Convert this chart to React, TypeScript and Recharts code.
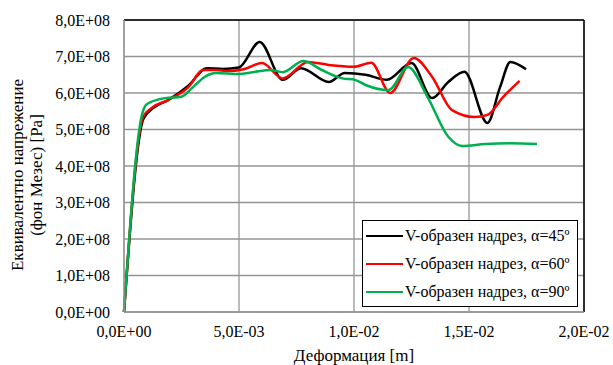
import React from "react";
import {
  LineChart,
  Line,
  XAxis,
  YAxis,
  CartesianGrid,
  Legend,
  ReferenceLine,
} from "recharts";

// deformation in units of 1E-3 m, stress in units of 1E+8 Pa
const x45 = [0, 0.85, 1.3, 1.9, 2.8, 3.6, 4.3, 5.0, 5.9, 6.9, 7.7, 8.9, 9.6, 10.5, 11.43, 12.5, 13.4, 14.1, 14.8, 15.8, 16.35, 16.8, 17.48];
const y45 = [0, 5.3, 5.6, 5.8, 6.2, 6.68, 6.66, 6.7, 7.4, 6.36, 6.68, 6.3, 6.55, 6.5, 6.36, 6.82, 5.86, 6.3, 6.58, 5.18, 6.16, 6.85, 6.65];

const x60 = [0, 0.83, 1.22, 1.9, 2.8, 3.43, 4.0, 4.5, 5.2, 6.0, 6.9, 8.0, 8.9, 10.0, 10.75, 11.57, 12.6, 13.4, 14.26, 15.26, 15.8, 16.5, 17.2];
const y60 = [0, 5.34, 5.6, 5.8, 6.16, 6.63, 6.63, 6.6, 6.65, 6.82, 6.4, 6.85, 6.77, 6.72, 6.83, 6.0, 6.96, 6.44, 5.53, 5.34, 5.4, 5.9, 6.33];

const x90 = [0, 0.78, 1.0, 1.8, 2.5, 3.0, 3.5, 4.0, 5.0, 5.6, 6.4, 6.9, 7.8, 8.6, 9.5, 10.04, 10.5, 11.5, 12.35, 13.2, 14.1, 14.7, 15.7, 16.8, 17.96];
const y90 = [0, 5.4, 5.7, 5.86, 5.9, 6.16, 6.44, 6.55, 6.52, 6.57, 6.63, 6.57, 6.88, 6.63, 6.4, 6.36, 6.22, 6.08, 6.71, 5.89, 4.8, 4.55, 4.6, 4.62, 4.6];

const seriesNames = [
  "V-образен надрез, α=45º",
  "V-образен надрез, α=60º",
  "V-образен надрез, α=90º",
];
const seriesColors = ["#000000", "#ff0000", "#00b050"];

const xTicks = [0, 0.005, 0.01, 0.015, 0.02];
const yTicks = [0, 1e8, 2e8, 3e8, 4e8, 5e8, 6e8, 7e8, 8e8];

const toPoints = (xs: number[], ys: number[]) =>
  xs.map((x, i) => ({ x: x * 1e-3, y: ys[i] * 1e8 }));

const series = [toPoints(x45, y45), toPoints(x60, y60), toPoints(x90, y90)];

const FONT =
  '"Liberation Serif", Tinos, "Times New Roman", Times, "Noto Serif", "DejaVu Serif", FreeSerif, serif';

const sci = (v: number) => {
  if (v === 0) return "0,0E+00";
  let e = Math.floor(Math.log10(Math.abs(v)) + 1e-9);
  let m = v / Math.pow(10, e);
  const exp = String(Math.abs(e)).padStart(2, "0");
  return `${m.toFixed(1).replace(".", ",")}E${e < 0 ? "-" : "+"}${exp}`;
};

const YTitle = (props: any) => {
  const { viewBox } = props;
  const cy = viewBox.y + viewBox.height / 2 + 9;
  return (
    <g style={{ fontFamily: FONT }} fontSize={17} fill="#000">
      <text x={23} y={cy} transform={`rotate(-90 23 ${cy})`} textAnchor="middle">
        Еквивалентно напрежение
      </text>
      <text x={42} y={cy} transform={`rotate(-90 42 ${cy})`} textAnchor="middle">
        (фон Мезес) [Pa]
      </text>
    </g>
  );
};

const LegendBox = () => (
  <div
    style={{
      border: "1.5px solid #000",
      background: "#fff",
      width: 216,
      fontFamily: FONT,
      fontSize: 16,
      color: "#000",
      boxSizing: "border-box",
      paddingTop: 1,
    }}
  >
    {seriesNames.map((name, i) => (
      <div
        key={name}
        style={{ display: "flex", alignItems: "center", height: 28, whiteSpace: "nowrap" }}
      >
        <span
          style={{
            display: "inline-block",
            width: 37,
            height: 2.5,
            background: seriesColors[i],
            marginLeft: 3,
            marginRight: 2,
          }}
        />
        <span>{name}</span>
      </div>
    ))}
  </div>
);

export default function App() {
  return (
    <div style={{ position: "absolute", left: 0, top: 0, fontFamily: FONT }}>
      <LineChart
        width={613}
        height={365}
        margin={{ top: 20, right: 29, bottom: 0, left: 0 }}
        style={{ fontFamily: FONT }}
      >
        <CartesianGrid stroke="#959595" strokeWidth={1.3} />
        <XAxis
          type="number"
          dataKey="x"
          domain={[0, 0.02]}
          ticks={xTicks}
          tickFormatter={sci}
          tickLine={false}
          tickSize={6}
          tickMargin={8}
          height={53}
          interval={0}
          axisLine={{ stroke: "#959595", strokeWidth: 1.3 }}
          tick={{ fontFamily: FONT, fontSize: 16, fill: "#000" }}
          label={{
            value: "Деформация [m]",
            position: "insideBottom",
            offset: 4,
            fontFamily: FONT,
            fontSize: 17,
            fill: "#000",
          }}
        />
        <YAxis
          type="number"
          domain={[0, 8e8]}
          ticks={yTicks}
          tickFormatter={sci}
          tickLine={false}
          tickSize={6}
          tickMargin={8}
          width={124}
          interval={0}
          axisLine={{ stroke: "#959595", strokeWidth: 1.3 }}
          tick={{ fontFamily: FONT, fontSize: 16, fill: "#000" }}
          label={<YTitle />}
        />
        <ReferenceLine y={8e8} stroke="#000" strokeWidth={1.5} />
        <ReferenceLine x={0.02} stroke="#000" strokeWidth={1.5} />
        {series.map((data, i) => (
          <Line
            key={seriesNames[i]}
            data={data}
            dataKey="y"
            name={seriesNames[i]}
            type="monotone"
            stroke={seriesColors[i]}
            strokeWidth={2.5}
            dot={false}
            isAnimationActive={false}
          />
        ))}
        <Legend
          layout="vertical"
          verticalAlign="middle"
          align="center"
          content={<LegendBox />}
          wrapperStyle={{ left: 362, top: 220, width: 216 }}
        />
      </LineChart>
    </div>
  );
}
